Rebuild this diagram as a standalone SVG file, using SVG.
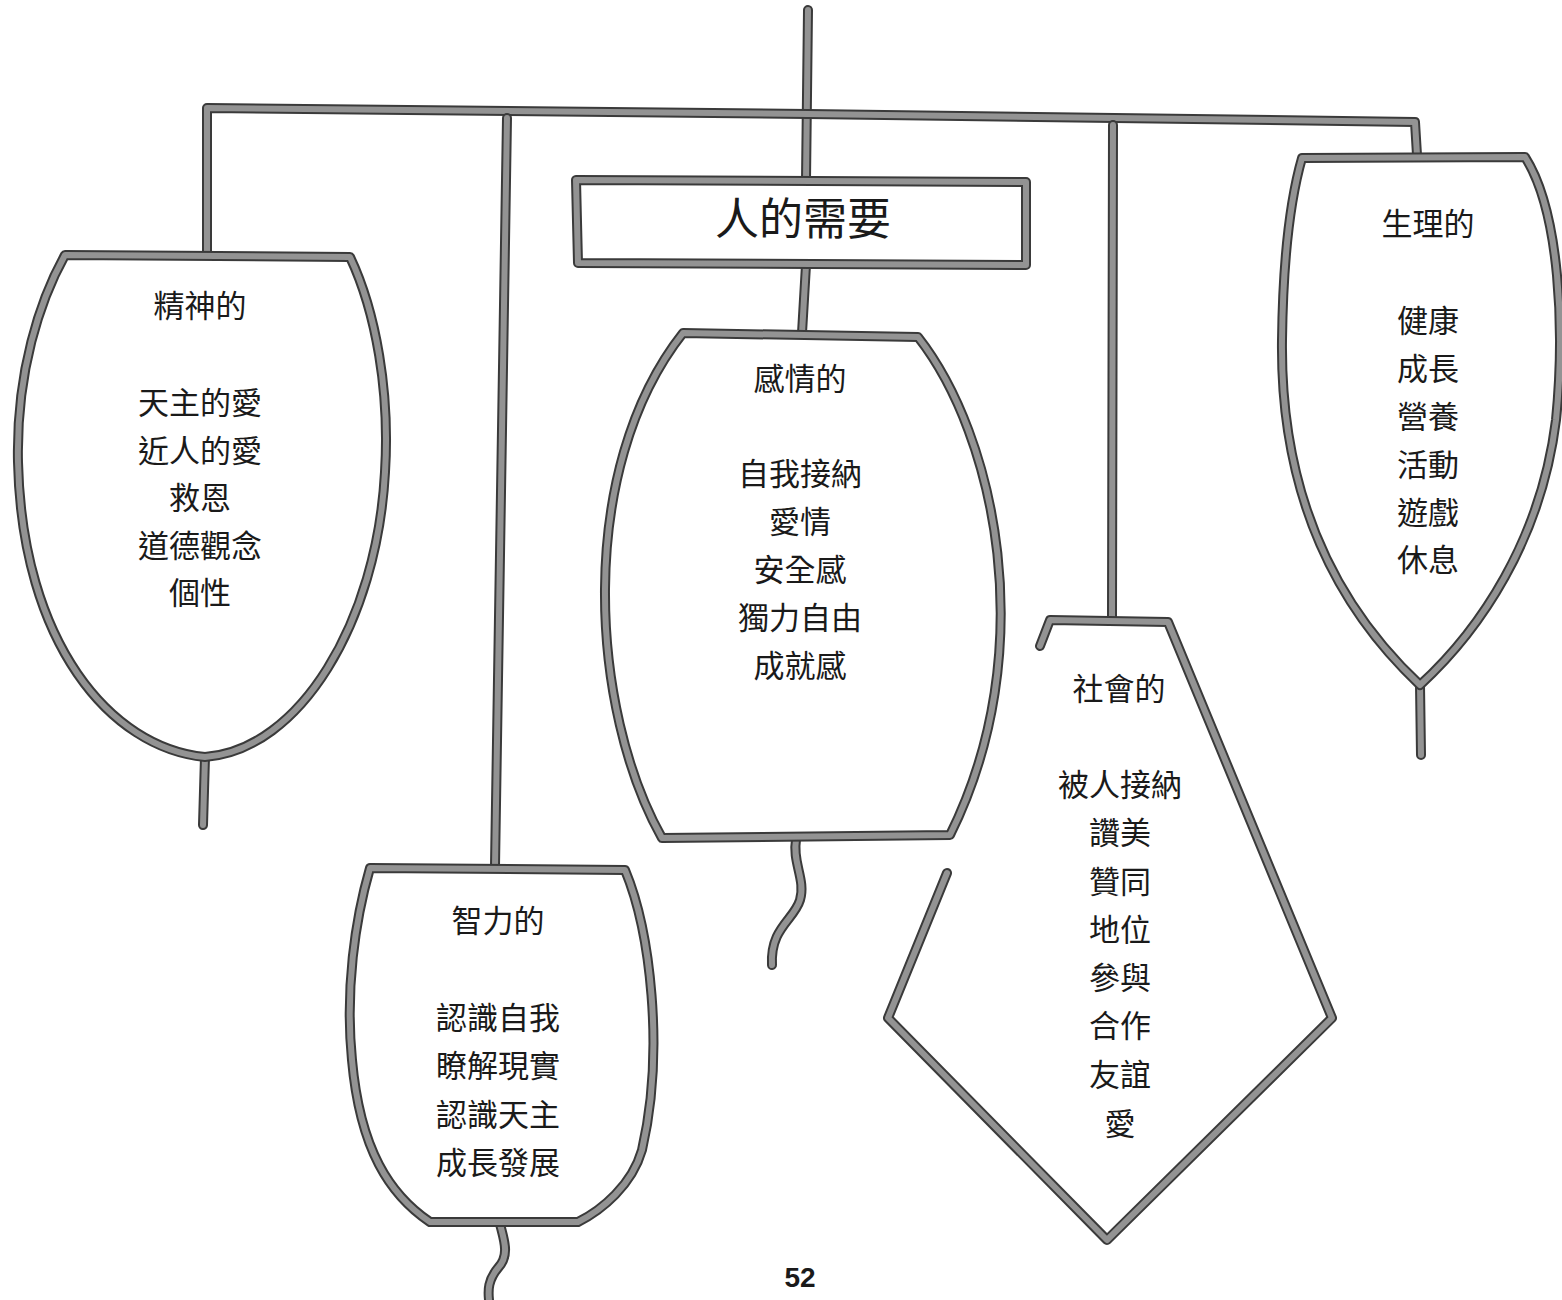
<svg xmlns="http://www.w3.org/2000/svg" width="1562" height="1300" viewBox="0 0 1562 1300">
<style>
  .o{fill:none;stroke:#3a3a3a;stroke-width:10;stroke-linejoin:round;stroke-linecap:round}
  .c{fill:none;stroke:#939393;stroke-width:6;stroke-linejoin:round;stroke-linecap:round}
  .bg{fill:#ffffff;stroke:none}
  .t{font-family:"Noto Sans CJK TC","Noto Sans CJK SC",sans-serif;font-size:31px;fill:#1a1a1a;text-anchor:middle;dominant-baseline:central}
  .title{font-size:44px}
  .num{font-family:"Liberation Sans",Arial,sans-serif;font-size:28px;font-weight:bold;fill:#1a1a1a;text-anchor:middle;dominant-baseline:central}
</style>
<defs>
  <path id="d-top" d="M808,10 L806,180"/>
  <path id="d-bar" d="M207,255 L207,108 L808,114 L1415,122 L1417,155"/>
  <path id="d-drop2" d="M507,118 L495,866"/>
  <path id="d-drop4" d="M1113,125 L1112,620"/>
  <path id="d-stem-c" d="M806,265 L802,333"/>
  <path id="d-stem-s" d="M205,757 L203,825"/>
  <path id="d-stem-p" d="M1420,685 L1421,755"/>
  <path id="d-wig-e" d="M796,840 C792,862 806,880 800,900 C794,920 770,928 772,965"/>
  <path id="d-wig-i" d="M500,1224 C504,1240 510,1255 498,1268 C488,1280 488,1290 489,1300"/>
  <path id="d-rect" d="M576,180 L1026,182 L1026,265 L578,263 Z"/>
  <path id="d-spirit" d="M65,255 L350,257 C376,312 390,392 385,472 C377,622 300,750 205,757 C110,748 22,642 18,462 C16,372 40,300 65,255 Z"/>
  <path id="d-emo" d="M683,333 L918,337 C995,435 1042,650 950,835 L662,838 C590,710 575,470 683,333 Z"/>
  <path id="d-intel" d="M370,868 L625,870 C650,930 665,1050 642,1150 C632,1185 602,1210 578,1222 L430,1222 C390,1195 360,1150 352,1060 C345,990 355,920 370,868 Z"/>
  <path id="d-phys" d="M1302,158 L1525,157 C1560,212 1565,330 1556,420 C1541,540 1480,630 1420,685 C1340,610 1280,500 1282,340 C1283,262 1290,200 1302,158 Z"/>
  <path id="d-social" d="M1040,646 L1050,620 L1168,622 L1332,1018 L1107,1240 L888,1018 L947,873"/>
</defs>
<rect width="1562" height="1300" fill="#ffffff"/>
<g id="connectors">
  <use href="#d-top" class="o"/><use href="#d-top" class="c"/>
  <use href="#d-bar" class="o"/><use href="#d-bar" class="c"/>
  <use href="#d-drop2" class="o"/><use href="#d-drop2" class="c"/>
  <use href="#d-drop4" class="o"/><use href="#d-drop4" class="c"/>
  <use href="#d-stem-c" class="o"/><use href="#d-stem-c" class="c"/>
  <use href="#d-stem-s" class="o"/><use href="#d-stem-s" class="c"/>
  <use href="#d-stem-p" class="o"/><use href="#d-stem-p" class="c"/>
  <use href="#d-wig-e" class="o"/><use href="#d-wig-e" class="c"/>
  <use href="#d-wig-i" class="o"/><use href="#d-wig-i" class="c"/>
</g>
<g id="node-title">
  <use href="#d-rect" class="bg"/>
  <use href="#d-rect" class="o"/><use href="#d-rect" class="c"/>
  <text class="t title" x="803" y="216">人的需要</text>
</g>
<g id="node-spiritual">
  <use href="#d-spirit" class="bg"/>
  <use href="#d-spirit" class="o"/><use href="#d-spirit" class="c"/>
  <text class="t"><tspan x="200" y="303">精神的</tspan><tspan x="200" y="400">天主的愛</tspan><tspan x="200" y="448">近人的愛</tspan><tspan x="200" y="495">救恩</tspan><tspan x="200" y="543">道德觀念</tspan><tspan x="200" y="590">個性</tspan></text>
</g>
<g id="node-emotional">
  <use href="#d-emo" class="bg"/>
  <use href="#d-emo" class="o"/><use href="#d-emo" class="c"/>
  <text class="t"><tspan x="800" y="376">感情的</tspan><tspan x="800" y="471">自我接納</tspan><tspan x="800" y="519">愛情</tspan><tspan x="800" y="567">安全感</tspan><tspan x="800" y="615">獨力自由</tspan><tspan x="800" y="663">成就感</tspan></text>
</g>
<g id="node-intellectual">
  <use href="#d-intel" class="bg"/>
  <use href="#d-intel" class="o"/><use href="#d-intel" class="c"/>
  <text class="t"><tspan x="498" y="918">智力的</tspan><tspan x="498" y="1015">認識自我</tspan><tspan x="498" y="1063">瞭解現實</tspan><tspan x="498" y="1112">認識天主</tspan><tspan x="498" y="1160">成長發展</tspan></text>
</g>
<g id="node-social">
  <use href="#d-social" class="o"/><use href="#d-social" class="c"/>
  <text class="t"><tspan x="1119" y="686">社會的</tspan><tspan x="1120" y="782">被人接納</tspan><tspan x="1120" y="830">讚美</tspan><tspan x="1120" y="879">贊同</tspan><tspan x="1120" y="927">地位</tspan><tspan x="1120" y="975">參與</tspan><tspan x="1120" y="1023">合作</tspan><tspan x="1120" y="1072">友誼</tspan><tspan x="1120" y="1121">愛</tspan></text>
</g>
<g id="node-physiological">
  <use href="#d-phys" class="bg"/>
  <use href="#d-phys" class="o"/><use href="#d-phys" class="c"/>
  <text class="t"><tspan x="1428" y="221">生理的</tspan><tspan x="1428" y="318">健康</tspan><tspan x="1428" y="366">成長</tspan><tspan x="1428" y="414">營養</tspan><tspan x="1428" y="462">活動</tspan><tspan x="1428" y="510">遊戲</tspan><tspan x="1428" y="557">休息</tspan></text>
</g>
<text class="num" x="800" y="1277">52</text>
</svg>
